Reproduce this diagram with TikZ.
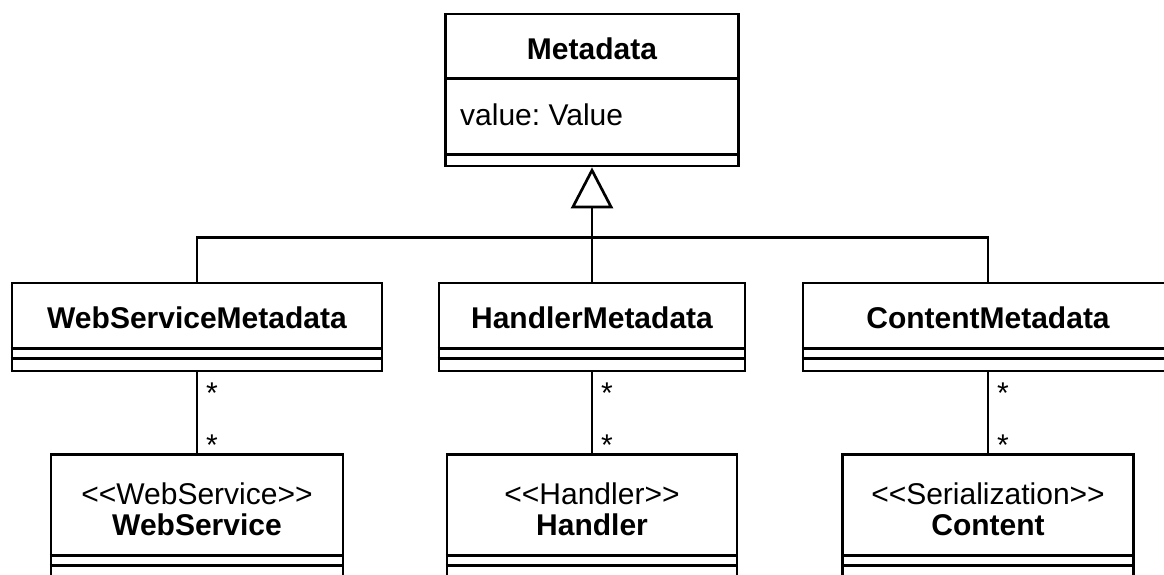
\documentclass[tikz,border=0pt]{standalone}
\usepackage{fontspec}
\setmainfont{Liberation Sans}
\usetikzlibrary{arrows.meta,calc}
\frenchspacing
\tikzset{
  umlbox/.style={draw=black, line width=2.7pt, fill=white, inner sep=0pt, rectangle},
  classname/.style={font=\fontsize{30}{33}\selectfont\bfseries, anchor=base, inner sep=0pt},
  plaintext/.style={font=\fontsize{30}{33}\selectfont, anchor=base, inner sep=0pt},
  mult/.style={font=\fontsize{30}{32}\selectfont, anchor=base, inner sep=0pt},
  wire/.style={draw=black, line width=2.7pt},
  gen/.style={wire, -{Triangle[open, length=41pt, width=42pt]}},
}
% guillemet-free stereotype brackets: the kerns stop the << and >> ligatures
\newcommand{\stereotype}[1]{<\kern0pt<#1>\kern0pt>}
\begin{document}
\begin{tikzpicture}[x=1pt, y=-1pt]
\useasboundingbox (0,0) rectangle (1164,574);
\clip (0,0) rectangle (1164,574);

% superclass
\node[umlbox, minimum width=293pt, minimum height=152pt] (meta) at (592,90) {};
\draw[wire] ($(meta.north west)+(0,66)$) -- ($(meta.north east)+(0,66)$);
\draw[wire] ($(meta.north west)+(0,142)$) -- ($(meta.north east)+(0,142)$);
\node[classname] (metaname) at (592,59) {Metadata};
\node[plaintext, anchor=base west] (metaattr) at (460,125) {value: Value};

% subclasses
\foreach \id/\cx/\w/\label in {wsm/197/370/WebServiceMetadata, hm/592/306/HandlerMetadata, cm/988/370/ContentMetadata}{
  \node[umlbox, minimum width=\w pt, minimum height=88pt] (\id) at (\cx,327) {};
  \draw[wire] ($(\id.north west)+(0,67)$) -- ($(\id.north east)+(0,67)$);
  \draw[wire] ($(\id.north west)+(0,77)$) -- ($(\id.north east)+(0,77)$);
  \node[classname] (\id-name) at (\cx,328.5) {\label};
}

% associated types
\foreach \id/\cx/\w/\stereo/\label in {ws/197/292/WebService/WebService, hd/592/290/Handler/Handler, ct/988/291/Serialization/Content}{
  \node[umlbox, minimum width=\w pt, minimum height=150pt] (\id) at (\cx,529.5) {};
  \draw[wire] ($(\id.north west)+(0,102.5)$) -- ($(\id.north east)+(0,102.5)$);
  \draw[wire] ($(\id.north west)+(0,112)$) -- ($(\id.north east)+(0,112)$);
  \node[plaintext] (\id-stereo) at (\cx,504) {\stereotype{\stereo}};
  \node[classname] (\id-name) at (\cx,535) {\label};
}

% generalization
\coordinate (hub) at (592,237.5);
\draw[wire] (wsm.north) |- (hub);
\draw[wire] (cm.north) |- (hub);
\draw[gen] (hm.north) -- (meta.south);

% associations with multiplicities
\foreach \a/\b in {wsm/ws, hm/hd, cm/ct}{
  \draw[wire] (\a.south) -- (\b.north);
  \node[mult] (\a-m1) at ($(\a.south)+(15,31)$) {*};
  \node[mult] (\b-m2) at ($(\b.north)+(15,2)$) {*};
}
\end{tikzpicture}
\end{document}
